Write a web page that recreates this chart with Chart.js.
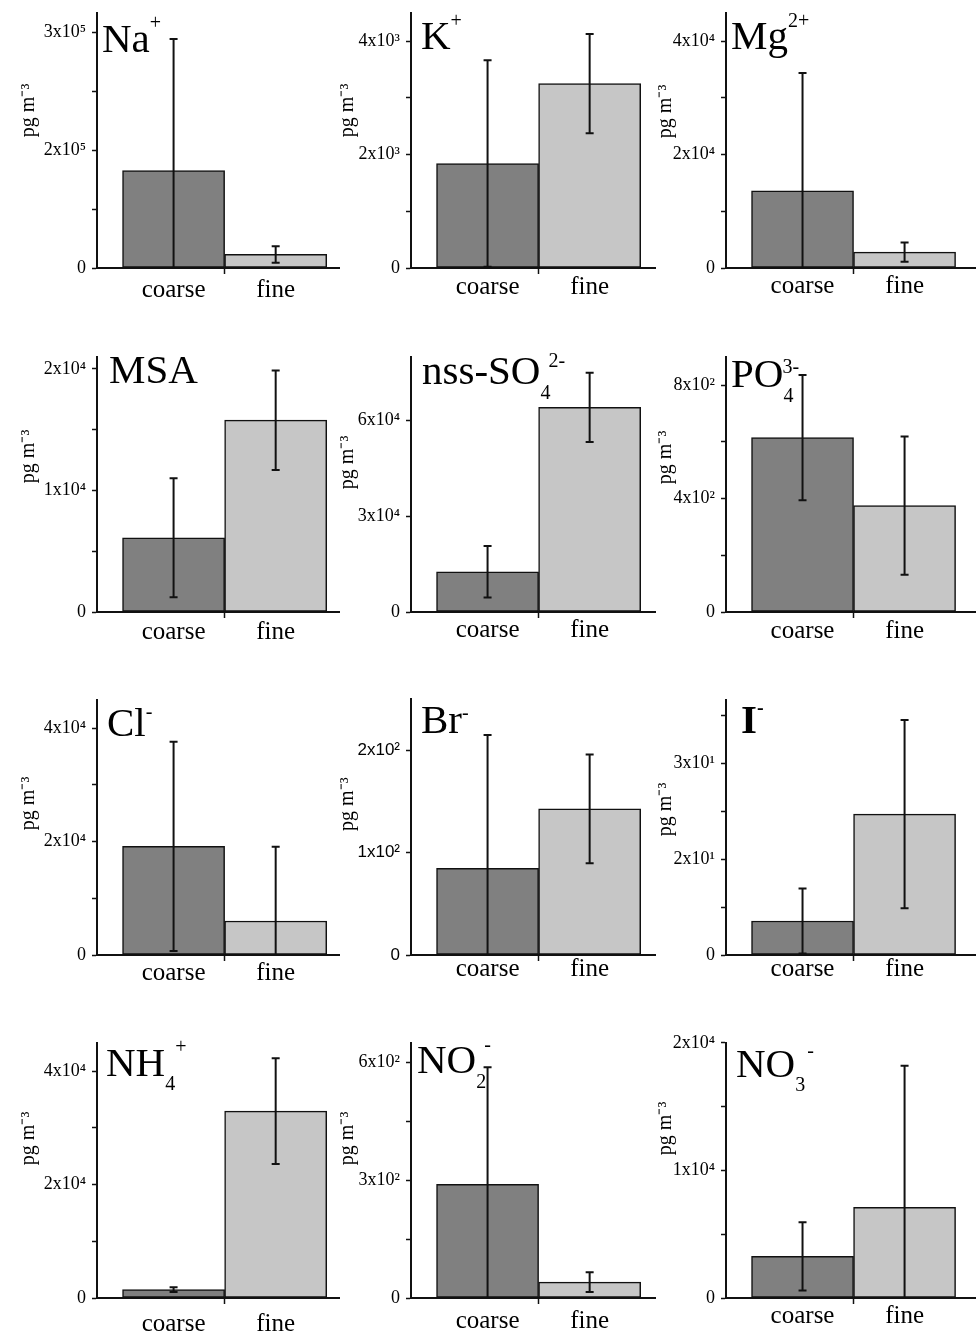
<!DOCTYPE html>
<html>
<head>
<meta charset="utf-8">
<script src="https://cdn.jsdelivr.net/npm/chart.js@4.4.1/dist/chart.umd.min.js"></script>
<style>
html, body { margin:0; padding:0; background:#fff; }
body { width:976px; height:1336px; overflow:hidden; position:relative; }
.panel { position:absolute; }
.ttl { position:absolute; font-family:'Liberation Serif', serif; font-size:41px; line-height:41px; white-space:nowrap; color:#000; }
.ttl .sb, .ttl .sp { font-size:20px; position:relative; }
</style>
</head>
<body>
<script>
// ---- data ----
const categories = ["coarse", "fine"];
const barCenters = [0.75, 1.75];
const unitText = "pg m⁻³";

const titleText = ["Na", "K", "Mg", "MSA", "nss-SO", "PO", "Cl", "Br", "I", "NH", "NO", "NO"];
const titleSub  = ["",   "",  "",   "",    "4",      "4",  "",   "",   "",  "4",  "2",  "3"];
const titleSup  = ["+",  "+", "2+", "",    "2-",     "3-", "-",  "-",  "-", "+",  "-",  "-"];

const coarseMean = [1.242e5, 1843, 13590, 6110, 12620, 615, 19160, 84.6, 5.33, 1470, 289.5, 3260];
const coarseSd   = [1.673e5, 1820, 20800, 4890, 8100, 221, 18460, 130.3, 5.1, 410, 298.5, 2680];
const fineMean   = [1.73e4, 3253, 2800, 15785, 64130, 375, 5990, 142.8, 22.09, 32950, 40.3, 7115];
const fineSd     = [1.05e4, 875, 1700, 4090, 10850, 244, 13110, 53.2, 14.75, 9330, 25, 11080];

const yMax = [3.25e5, 4500, 45000, 21000, 80000, 900, 45000, 250, 40, 45000, 650, 20000];
const yMajor = [
  [0, 1.5e5, 3e5], [0, 2000, 4000], [0, 2e4, 4e4],
  [0, 1e4, 2e4], [0, 3e4, 6e4], [0, 400, 800],
  [0, 2e4, 4e4], [0, 100, 200], [0, 15, 30],
  [0, 2e4, 4e4], [0, 300, 600], [0, 1e4, 2e4]
];
const yMajorLabels = [
  ["0", "2x10⁵", "3x10⁵"], ["0", "2x10³", "4x10³"], ["0", "2x10⁴", "4x10⁴"],
  ["0", "1x10⁴", "2x10⁴"], ["0", "3x10⁴", "6x10⁴"], ["0", "4x10²", "8x10²"],
  ["0", "2x10⁴", "4x10⁴"], ["0", "1x10²", "2x10²"], ["0", "2x10¹", "3x10¹"],
  ["0", "2x10⁴", "4x10⁴"], ["0", "3x10²", "6x10²"], ["0", "1x10⁴", "2x10⁴"]
];
const yMinor = [
  [0.75e5, 2.25e5], [1000, 3000], [1e4, 3e4],
  [5000, 1.5e4], [], [200, 600],
  [1e4, 3e4], [], [7.5, 22.5, 37.5],
  [1e4, 3e4], [150, 450], [5000, 1.5e4]
];

// ---- layout ----
const COARSE = "#808080";
const FINE = "#c6c6c6";
const INK = "#111";
const SERIF = "'Liberation Serif', 'Times New Roman', serif";
const colX = [97, 411, 726];          // y-axis line x
const colXMax = [2.38, 2.4, 2.45];     // x range in bar widths
const colUnitX = [12, 17, 20];         // unit label centre from canvas left
const rowZero = [268, 612, 955, 1298]; // x-axis line y
const BAR_PX = 102;
const PLOT_H = 258;
const AXIS_W = 80;
const XAXIS_H = 50;
const PAD_TOP = 14;
const unitShift = [-30, -30, -29, -28, -22, -27, -24, -23, -18, -32, -32, -42];
const xLabelPad = [1, -2, -3, -1, -3, -2, -3, -7, -7, 5, 2, -3];

const titleLeft = [102, 421, 731, 109, 422, 731, 107, 421, 741, 106, 417, 736];
const titleBase = [52, 49, 49, 383, 384, 387, 736, 733, 733, 1076, 1073, 1077];
const subDrop  = [0, 0, 0, 0, 15, 15, 0, 0, 0, 14, 15, 14];
const supRise  = [23, 22, 22, 0, 17, 14, 18, 14, 19, 23, 22, 20];
const supShift = [0, 0, 0, 0, -2, -11, 0, 0, 0, 0, -2, 2];

const errorBars = {
  id: "errorBars",
  afterDatasetsDraw(chart) {
    const {ctx, chartArea, scales} = chart;
    const ds = chart.data.datasets[0];
    const meta = chart.getDatasetMeta(0);
    ctx.save();
    ctx.beginPath();
    ctx.rect(chartArea.left, chartArea.top - 3, chartArea.right - chartArea.left, chartArea.bottom - chartArea.top + 3);
    ctx.clip();
    ctx.strokeStyle = INK;
    ctx.lineWidth = 2;
    meta.data.forEach((bar, k) => {
      const v = ds.data[k].y, e = ds.sd[k];
      const top = scales.y.getPixelForValue(v + e);
      const bot = scales.y.getPixelForValue(v - e);
      ctx.beginPath();
      ctx.moveTo(bar.x, top); ctx.lineTo(bar.x, bot);
      ctx.moveTo(bar.x - 4, top); ctx.lineTo(bar.x + 4, top);
      ctx.moveTo(bar.x - 4, bot); ctx.lineTo(bar.x + 4, bot);
      ctx.stroke();
    });
    ctx.restore();
  }
};

// y unit label, sitting a bit above the middle of the axis like the original
const unitLabel = {
  id: "unitLabel",
  afterDraw(chart, args, opts) {
    const {ctx, chartArea} = chart;
    ctx.save();
    ctx.translate(chart.scales.y.left + opts.x, (chartArea.top + chartArea.bottom) / 2 + opts.shift);
    ctx.rotate(-Math.PI / 2);
    ctx.font = "20px " + SERIF;
    ctx.fillStyle = "#000";
    ctx.textAlign = "center";
    ctx.textBaseline = "middle";
    ctx.fillText(unitText, 0, 0);
    ctx.restore();
  }
};

function makePanel(i){
  const col = i % 3, row = Math.floor(i / 3);
  const x0 = colX[col], zy = rowZero[row];
  const xMax = colXMax[col];
  const w = AXIS_W + Math.round(xMax * BAR_PX);
  const h = PAD_TOP + PLOT_H + XAXIS_H;

  const div = document.createElement("div");
  div.className = "panel";
  div.style.left = (x0 - AXIS_W) + "px";
  div.style.top = (zy - PLOT_H - PAD_TOP) + "px";
  const cv = document.createElement("canvas");
  cv.width = w; cv.height = h;
  cv.style.width = w + "px"; cv.style.height = h + "px";
  div.appendChild(cv);
  document.body.appendChild(div);

  const tickFont = i === 7 ? {family: "'Liberation Sans', Arial, sans-serif", size: 17}
                           : {family: SERIF, size: 18};

  new Chart(cv, {
    type: "bar",
    data: {
      datasets: [{
        data: [{x: barCenters[0], y: coarseMean[i]}, {x: barCenters[1], y: fineMean[i]}],
        sd: [coarseSd[i], fineSd[i]],
        backgroundColor: [COARSE, FINE],
        borderColor: INK,
        borderWidth: 1.5,
        borderSkipped: false,
        barPercentage: 1,
        categoryPercentage: 1
      }]
    },
    options: {
      responsive: false,
      animation: false,
      devicePixelRatio: 1,
      layout: { padding: { top: PAD_TOP, left: 0, right: 0, bottom: 0 } },
      plugins: {
        legend: { display: false },
        tooltip: { enabled: false },
        unitLabel: { x: colUnitX[col], shift: unitShift[i] }
      },
      scales: {
        x: {
          type: "linear", min: 0, max: xMax, offset: false,
          afterBuildTicks: s => { s.ticks = barCenters.map(v => ({value: v})); },
          afterFit: s => { s.height = XAXIS_H; },
          ticks: {
            autoSkip: false, maxRotation: 0, minRotation: 0,
            padding: xLabelPad[i], color: "#000",
            font: {family: SERIF, size: 25},
            callback: (v, k) => categories[k]
          },
          grid: {
            offset: true, drawOnChartArea: false, drawTicks: true,
            tickLength: 6, tickWidth: 1.5,
            tickColor: c => c.index === 1 ? INK : "rgba(0,0,0,0)"
          },
          border: { display: true, color: INK, width: 2 }
        },
        y: {
          type: "linear", min: 0, max: yMax[i],
          afterBuildTicks: s => {
            s.ticks = yMajor[i].concat(yMinor[i]).sort((a, b) => a - b).map(v => ({value: v}));
          },
          afterFit: s => { s.width = AXIS_W; },
          ticks: {
            autoSkip: false, padding: 6, color: "#000", font: tickFont,
            callback: v => {
              const k = yMajor[i].indexOf(v);
              return k < 0 ? "" : yMajorLabels[i][k];
            }
          },
          grid: { drawOnChartArea: false, tickLength: 5, tickWidth: 1.5, tickColor: INK },
          border: { display: true, color: INK, width: 2 }
        }
      }
    },
    plugins: [errorBars, unitLabel]
  });

  // species label
  const t = document.createElement("div");
  t.className = "ttl";
  if (titleText[i] === "I") t.style.fontWeight = "bold";
  t.style.left = titleLeft[i] + "px";
  t.style.top = (titleBase[i] - 34) + "px";
  let html = "<span>" + titleText[i] + "</span>";
  if (titleSub[i]) html += '<span class="sb" style="top:' + subDrop[i] + 'px">' + titleSub[i] + "</span>";
  if (titleSup[i]) html += '<span class="sp" style="top:' + (-supRise[i]) + 'px;margin-left:' + supShift[i] + 'px">' + titleSup[i] + "</span>";
  t.innerHTML = html;
  document.body.appendChild(t);
}

for (let i = 0; i < 12; i++) makePanel(i);
</script>
</body>
</html>
